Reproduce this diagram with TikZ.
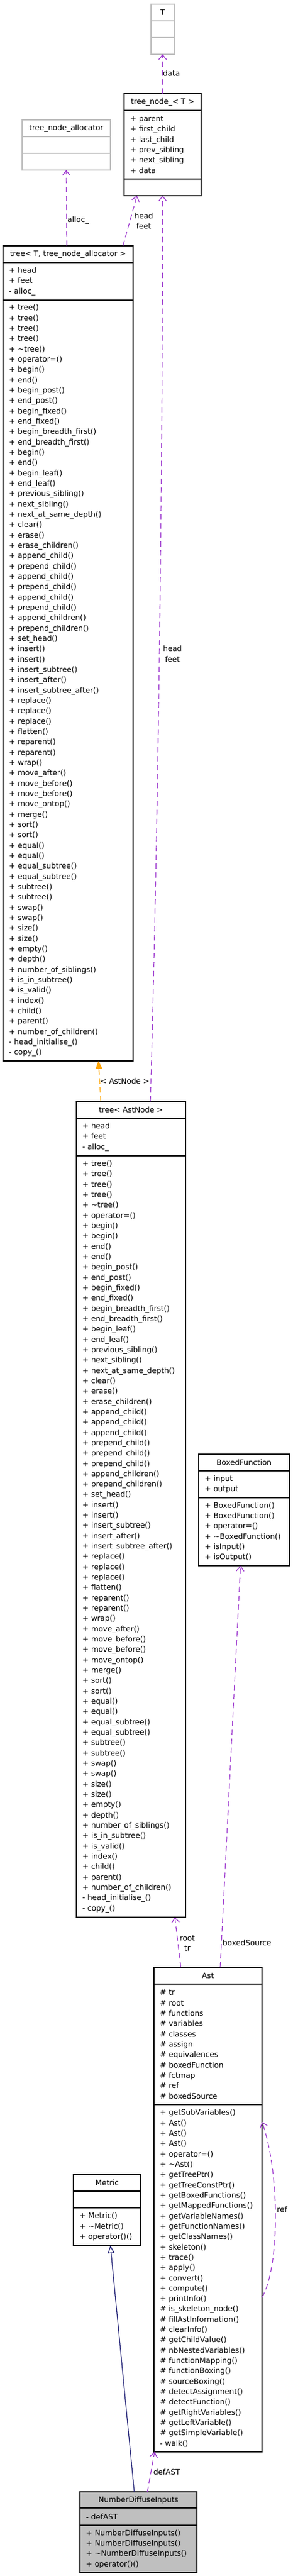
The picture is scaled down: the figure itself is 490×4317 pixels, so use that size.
\documentclass[tikz,border=0pt]{standalone}
\usepackage{fontspec}
\setmainfont{DejaVu Sans}
\usetikzlibrary{positioning,arrows.meta}
\definecolor{usecol}{HTML}{9A32CD}
\definecolor{tplcol}{HTML}{FFA500}
\definecolor{inhcol}{HTML}{191970}
\definecolor{faint}{HTML}{BFBFBF}
\newcommand{\dxfont}{\fontsize{12.6pt}{17.33pt}\selectfont}
\hyphenpenalty=10000

\begin{document}
\begin{tikzpicture}[x=1pt,y=1pt,
    classhead/.style={draw, line width=1.2pt, anchor=north, minimum height=28pt, inner sep=0pt, outer sep=0pt, font=\dxfont},
    classpart/.style={draw, line width=1.2pt, align=left, inner xsep=10pt, inner ysep=0pt, outer sep=0pt, font=\dxfont},
    uses/.style={draw=usecol, line width=1.2pt, dash pattern=on 9pt off 6pt, -{Straight Barb[length=8pt,width=13pt]}},
    tpl/.style={draw=tplcol, line width=1.2pt, dash pattern=on 9pt off 6pt, -{Triangle[length=13pt,width=11pt]}},
    inh/.style={draw=inhcol, line width=1.2pt, -{Triangle[open,length=13pt,width=11pt,fill=white]}},
    lbl/.style={font=\dxfont, inner sep=0pt}]
    \useasboundingbox (0,0) rectangle (490,-4317);

    % T
    \node[classhead, draw=faint, minimum width=39pt] (T) at (272.5,-7) {T};
    \node[classpart, draw=faint, text width=19pt, minimum height=28pt, below=0pt of T] (Tattr) {};
    \node[classpart, draw=faint, text width=19pt, minimum height=28pt, below=0pt of Tattr] (Tops) {};

    % tree_node_< T >
    \node[classhead, minimum width=129pt] (tnode) at (272.5,-157) {tree\_node\_< T >};
    \node[classpart, text width=109pt, minimum height=115pt, below=0pt of tnode] (tnodeattr)
      {+~parent\\+~first\_child\\+~last\_child\\+~prev\_sibling\\+~next\_sibling\\+~data};
    \node[classpart, text width=109pt, minimum height=28pt, below=0pt of tnodeattr] (tnodeops) {};

    % tree_node_allocator
    \node[classhead, draw=faint, minimum width=148pt] (alloc) at (111,-201) {tree\_node\_allocator};
    \node[classpart, draw=faint, text width=128pt, minimum height=28pt, below=0pt of alloc] (allocattr) {};
    \node[classpart, draw=faint, text width=128pt, minimum height=28pt, below=0pt of allocattr] (allocops) {};

    % tree< T, tree_node_allocator >
    \node[classhead, minimum width=218pt] (tree) at (114,-412) {tree< T, tree\_node\_allocator >};
    \node[classpart, text width=198pt, minimum height=63pt, below=0pt of tree] (treeattr)
      {+~head\\+~feet\\-~alloc\_};
    \node[classpart, text width=198pt, minimum height=1275pt, below=0pt of treeattr] (treeops)
      {+~tree()\\+~tree()\\+~tree()\\+~tree()\\+~\textasciitilde tree()\\+~operator=()\\+~begin()\\+~end()\\+~begin\_post()\\+~end\_post()\\+~begin\_fixed()\\+~end\_fixed()\\+~begin\_breadth\_first()\\+~end\_breadth\_first()\\+~begin()\\+~end()\\+~begin\_leaf()\\+~end\_leaf()\\+~previous\_sibling()\\+~next\_sibling()\\+~next\_at\_same\_depth()\\+~clear()\\+~erase()\\+~erase\_children()\\+~append\_child()\\+~prepend\_child()\\+~append\_child()\\+~prepend\_child()\\+~append\_child()\\+~prepend\_child()\\+~append\_children()\\+~prepend\_children()\\+~set\_head()\\+~insert()\\+~insert()\\+~insert\_subtree()\\+~insert\_after()\\+~insert\_subtree\_after()\\+~replace()\\+~replace()\\+~replace()\\+~flatten()\\+~reparent()\\+~reparent()\\+~wrap()\\+~move\_after()\\+~move\_before()\\+~move\_before()\\+~move\_ontop()\\+~merge()\\+~sort()\\+~sort()\\+~equal()\\+~equal()\\+~equal\_subtree()\\+~equal\_subtree()\\+~subtree()\\+~subtree()\\+~swap()\\+~swap()\\+~size()\\+~size()\\+~empty()\\+~depth()\\+~number\_of\_siblings()\\+~is\_in\_subtree()\\+~is\_valid()\\+~index()\\+~child()\\+~parent()\\+~number\_of\_children()\\-~head\_initialise\_()\\-~copy\_()};

    % tree< AstNode >
    \node[classhead, minimum width=183pt] (treeast) at (219.5,-1846) {tree< AstNode >};
    \node[classpart, text width=163pt, minimum height=63pt, below=0pt of treeast] (treeastattr)
      {+~head\\+~feet\\-~alloc\_};
    \node[classpart, text width=163pt, minimum height=1276pt, below=0pt of treeastattr] (treeastops)
      {+~tree()\\+~tree()\\+~tree()\\+~tree()\\+~\textasciitilde tree()\\+~operator=()\\+~begin()\\+~begin()\\+~end()\\+~end()\\+~begin\_post()\\+~end\_post()\\+~begin\_fixed()\\+~end\_fixed()\\+~begin\_breadth\_first()\\+~end\_breadth\_first()\\+~begin\_leaf()\\+~end\_leaf()\\+~previous\_sibling()\\+~next\_sibling()\\+~next\_at\_same\_depth()\\+~clear()\\+~erase()\\+~erase\_children()\\+~append\_child()\\+~append\_child()\\+~append\_child()\\+~prepend\_child()\\+~prepend\_child()\\+~prepend\_child()\\+~append\_children()\\+~prepend\_children()\\+~set\_head()\\+~insert()\\+~insert()\\+~insert\_subtree()\\+~insert\_after()\\+~insert\_subtree\_after()\\+~replace()\\+~replace()\\+~replace()\\+~flatten()\\+~reparent()\\+~reparent()\\+~wrap()\\+~move\_after()\\+~move\_before()\\+~move\_before()\\+~move\_ontop()\\+~merge()\\+~sort()\\+~sort()\\+~equal()\\+~equal()\\+~equal\_subtree()\\+~equal\_subtree()\\+~subtree()\\+~subtree()\\+~swap()\\+~swap()\\+~size()\\+~size()\\+~empty()\\+~depth()\\+~number\_of\_siblings()\\+~is\_in\_subtree()\\+~is\_valid()\\+~index()\\+~child()\\+~parent()\\+~number\_of\_children()\\-~head\_initialise\_()\\-~copy\_()};

    % BoxedFunction
    \node[classhead, minimum width=152pt] (boxed) at (409,-2437) {BoxedFunction};
    \node[classpart, text width=132pt, minimum height=45pt, below=0pt of boxed] (boxedattr)
      {+~input\\+~output};
    \node[classpart, text width=132pt, minimum height=114pt, below=0pt of boxedattr] (boxedops)
      {+~BoxedFunction()\\+~BoxedFunction()\\+~operator=()\\+~\textasciitilde BoxedFunction()\\+~isInput()\\+~isOutput()};

    % Ast
    \node[classhead, minimum width=181pt] (ast) at (348.5,-3297) {Ast};
    \node[classpart, text width=161pt, minimum height=202pt, below=0pt of ast] (astattr)
      {\#~tr\\\#~root\\\#~functions\\\#~variables\\\#~classes\\\#~assign\\\#~equivalences\\\#~boxedFunction\\\#~fctmap\\\#~ref\\\#~boxedSource};
    \node[classpart, text width=161pt, minimum height=582pt, below=0pt of astattr] (astops)
      {+~getSubVariables()\\+~Ast()\\+~Ast()\\+~Ast()\\+~operator=()\\+~\textasciitilde Ast()\\+~getTreePtr()\\+~getTreeConstPtr()\\+~getBoxedFunctions()\\+~getMappedFunctions()\\+~getVariableNames()\\+~getFunctionNames()\\+~getClassNames()\\+~skeleton()\\+~trace()\\+~apply()\\+~convert()\\+~compute()\\+~printInfo()\\\#~is\_skeleton\_node()\\\#~fillAstInformation()\\\#~clearInfo()\\\#~getChildValue()\\\#~nbNestedVariables()\\\#~functionMapping()\\\#~functionBoxing()\\\#~sourceBoxing()\\\#~detectAssignment()\\\#~detectFunction()\\\#~getRightVariables()\\\#~getLeftVariable()\\\#~getSimpleVariable()\\-~walk()};

    % Metric
    \node[classhead, minimum width=113pt] (metric) at (179.5,-3644) {Metric};
    \node[classpart, text width=93pt, minimum height=28pt, below=0pt of metric] (metricattr) {};
    \node[classpart, text width=93pt, minimum height=63pt, below=0pt of metricattr] (metricops)
      {+~Metric()\\+~\textasciitilde Metric()\\+~operator()()};

    % NumberDiffuseInputs
    \node[classhead, fill=faint, minimum width=196pt, minimum height=27pt] (ndi) at (232,-4176) {NumberDiffuseInputs};
    \node[classpart, fill=faint, text width=176pt, minimum height=29pt, below=0pt of ndi] (ndiattr)
      {-~defAST};
    \node[classpart, fill=faint, text width=176pt, minimum height=79pt, below=0pt of ndiattr] (ndiops)
      {+~NumberDiffuseInputs()\\+~NumberDiffuseInputs()\\+~\textasciitilde NumberDiffuseInputs()\\+~operator()()};

    % relations
    \draw[uses] (tnode.north) -- (Tops.south);
    \draw[uses] ([xshift=-2pt]tree.north) -- (allocops.south);
    \draw[uses] ([xshift=92pt]tree.north) -- ([xshift=-43pt]tnodeops.south);
    \draw[uses] ([xshift=32.5pt]treeast.north) .. controls +(10,346) and +(0,-572) .. (tnodeops.south);
    \draw[tpl] ([xshift=-50.5pt]treeast.north) -- ([xshift=51pt]treeops.south);
    \draw[uses] ([xshift=-45.5pt]ast.north) -- ([xshift=73.5pt]treeastops.south);
    \draw[uses] ([xshift=20.5pt]ast.north) -- ([xshift=-6pt]boxedops.south);
    \draw[uses] ([yshift=-323pt]astops.north east) .. controls +(30,50) and +(30,-84) .. ([yshift=-29pt]astops.north east);
    \draw[inh] ([xshift=-7pt]ndi.north) -- ([xshift=5.5pt]metricops.south);
    \draw[uses] ([xshift=15pt]ndi.north) -- ([xshift=1pt]astops.south west);

    % labels
    \node[lbl, anchor=base west] (ldata) at (273,-128) {data};
    \node[lbl, anchor=base west] (lalloc) at (113,-372) {alloc\_};
    \node[lbl, align=center, anchor=north] (lhead) at (241,-356.5) {head\\feet};
    \node[lbl, align=center, anchor=north] (lheadast) at (289,-1082) {head\\feet};
    \node[lbl, anchor=base west] (lastnode) at (168,-1816) {< AstNode >};
    \node[lbl, align=center, anchor=north] (lroot) at (314,-3243) {root\\tr};
    \node[lbl, anchor=base west] (lboxed) at (373,-3260) {boxedSource};
    \node[lbl, anchor=base west] (lref) at (464,-3707) {ref};
    \node[lbl, anchor=base west] (ldef) at (257,-4147) {defAST};
\end{tikzpicture}
\end{document}
